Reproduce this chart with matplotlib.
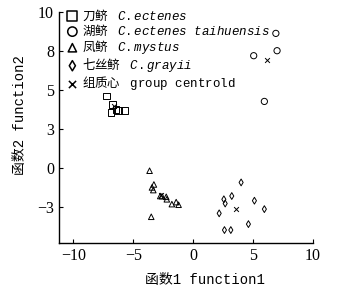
import matplotlib
matplotlib.use('Agg')
import matplotlib.pyplot as plt

plt.rcParams['font.family'] = ['Liberation Serif', 'Noto Sans CJK SC']
plt.rcParams['mathtext.fontset'] = 'custom'
plt.rcParams['mathtext.it'] = 'Liberation Mono:italic'
plt.rcParams['mathtext.rm'] = 'Liberation Mono'
plt.rcParams['mathtext.tt'] = 'Liberation Mono'

MONO = ['Liberation Mono', 'Noto Sans CJK SC']

# 判别函数得分
dao_x = [-7.25, -6.73, -6.86, -6.25, -5.75, -6.45]
dao_y = [4.63, 4.08, 3.55, 3.70, 3.70, 3.75]
hu_x = [6.9, 5.05, 7.0, 5.94]
hu_y = [8.63, 7.2, 7.52, 4.27]
feng_x = [-3.64, -3.28, -3.44, -3.33, -2.75, -2.6, -2.25, -2.2, -1.78, -1.42, -1.22, -3.5]
feng_y = [-0.17, -1.05, -1.24, -1.41, -1.79, -1.8, -1.84, -2.0, -2.31, -2.18, -2.35, -3.12]
qi_x = [4.0, 3.22, 2.56, 2.67, 5.11, 5.94, 2.17, 4.61, 2.61, 3.14]
qi_y = [-0.92, -1.79, -2.0, -2.27, -2.09, -2.63, -2.9, -3.59, -3.97, -3.97]
cent_x = [-6.6, 6.2, -2.7, 3.61]
cent_y = [4.0, 6.9, -1.75, -2.63]

labels = ['刀鲚 $\\quad\\it{C.ectenes}$',
          '湖鲚 $\\quad\\it{C.ectenes}\\quad\\it{taihuensis}$',
          '凤鲚 $\\quad\\it{C.mystus}$',
          '七丝鲚 $\\quad\\it{C.grayii}$',
          '组质心 $\\quad\\mathtt{group}\\quad\\mathtt{centrold}$']

yticks = [-2.5, 0, 2.5, 5, 7.5, 10]
yticklabels = ['−3', '0', '3', '5', '8', '10']
xticks = [-10, -5, 0, 5, 10]
xticklabels = ['−10', '−5', '0', '5', '10']

fig = plt.figure(figsize=(3.37, 3.01), dpi=100)
ax = fig.add_axes([59 / 337, 1 - 243 / 301, (313 - 59) / 337, (243 - 12) / 301])

kw = dict(facecolor='none', edgecolor='black', linewidths=0.7)
ax.scatter(dao_x, dao_y, marker='s', s=22, label=labels[0], **kw)
ax.scatter(hu_x, hu_y, marker='o', s=20, label=labels[1], **kw)
ax.scatter(feng_x, feng_y, marker='^', s=16, label=labels[2], **kw)
ax.scatter(qi_x, qi_y, marker='d', s=12, label=labels[3], **kw)
ax.scatter(cent_x, cent_y, marker='x', s=12, color='black', linewidths=0.7, label=labels[4])

ax.set_xlim(-11.2, 10)
ax.set_ylim(-4.8, 10)
ax.set_xticks(xticks)
ax.set_xticklabels(xticklabels)
ax.set_yticks(yticks)
ax.set_yticklabels(yticklabels)
ax.tick_params(direction='in', length=3, width=0.8, labelsize=11.5)
ax.spines['top'].set_visible(False)
ax.spines['right'].set_visible(False)
for s in ['left', 'bottom']:
    ax.spines[s].set_linewidth(1.0)

ax.set_xlabel('函数1 function1', fontsize=10, family=MONO)
ax.set_ylabel('函数2 function2', fontsize=10, family=MONO)
ax.xaxis.set_label_coords(0.575, -0.13)
ax.yaxis.set_label_coords(-0.125, 0.555)

leg = ax.legend(loc='upper left', bbox_to_anchor=(0.028, 1.025), frameon=False,
                markerscale=1.5,
                prop={'family': ['Noto Sans CJK SC', 'Liberation Mono'], 'size': 9},
                handletextpad=0.4, labelspacing=0.0, borderaxespad=0.0,
                borderpad=0.1, handlelength=0.8)
for h in leg.legend_handles:
    h.set_linewidth(1.1)

fig.savefig('out.png', dpi=100)
